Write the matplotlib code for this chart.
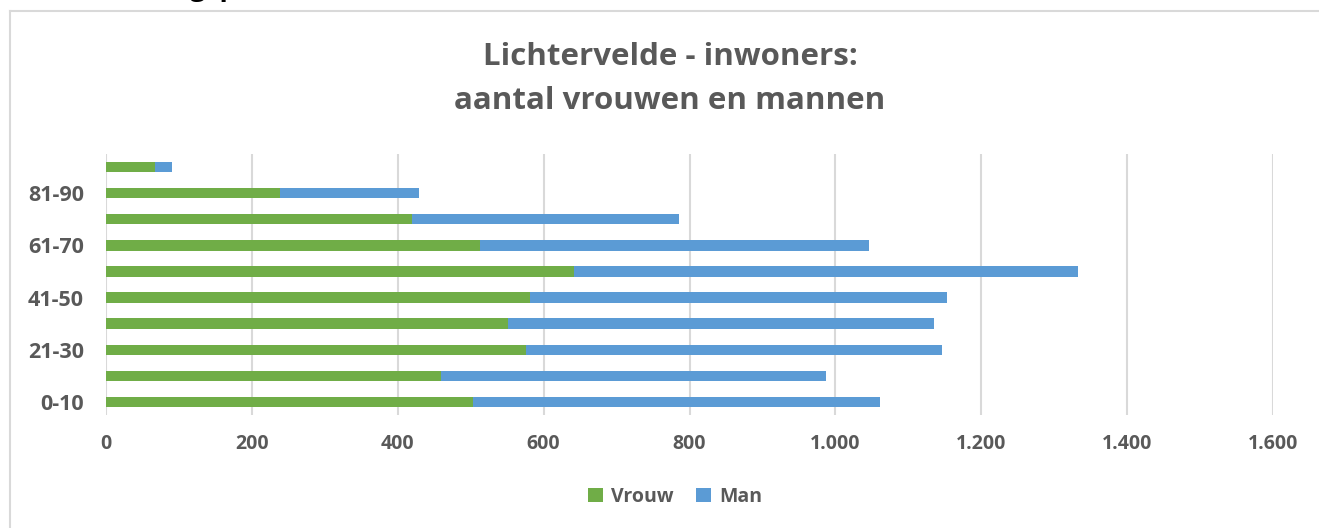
import matplotlib.pyplot as plt
from matplotlib.lines import Line2D
from matplotlib.ticker import FuncFormatter

# Leeftijdsgroepen (van jong naar oud) en aantallen
age_groups = ["0-10", "11-20", "21-30", "31-40", "41-50",
              "51-60", "61-70", "71-80", "81-90", "91+"]
vrouw = [503, 459, 576, 551, 581, 641, 513, 419, 239, 67]
man = [558, 528, 570, 584, 572, 692, 533, 366, 190, 24]

GREEN = "#70AD47"
BLUE = "#5B9BD5"
TEXT = "#595959"
GRID = "#D9D9D9"

plt.rcParams["font.family"] = ["Open Sans", "DejaVu Sans"]

W, H = 1319, 528
fig = plt.figure(figsize=(W / 100, H / 100), dpi=100)

# chart border (partially outside the canvas)
fig.add_artist(Line2D([9.5 / W, 1], [1 - 10.5 / H] * 2, color=GRID, lw=1.5))
fig.add_artist(Line2D([9.5 / W] * 2, [0, 1 - 10.5 / H], color=GRID, lw=1.5))

# heading above the chart, mostly outside the picture
fig.text(70 / W, 1 + 5 / H, "Bevolkingspiramide Lichtervelde",
         fontsize=20, fontweight="bold", color="black", va="baseline")

ax = fig.add_axes([106 / W, 1 - 415 / H, (1273 - 106) / W, (415 - 154) / H])

y = list(range(len(age_groups)))
ax.barh(y, vrouw, height=0.4, color=GREEN, label="Vrouw", zorder=3)
ax.barh(y, man, left=vrouw, height=0.4, color=BLUE, label="Man", zorder=3)

ax.set_xlim(0, 1600)
ax.set_ylim(-0.5, len(age_groups) - 0.5)
ax.set_xticks(range(0, 1601, 200))
ax.xaxis.set_major_formatter(FuncFormatter(lambda v, p: f"{v:,.0f}".replace(",", ".")))
ax.set_yticks(y[::2])
ax.set_yticklabels(age_groups[::2])

ax.grid(axis="x", color=GRID, lw=1.5, zorder=0)
for s in ax.spines.values():
    s.set_visible(False)
ax.tick_params(length=0, colors=TEXT)
ax.tick_params(axis="x", pad=14, labelsize=14)
ax.tick_params(axis="y", pad=16, labelsize=15.5)
for lab in ax.get_xticklabels() + ax.get_yticklabels():
    lab.set_fontweight("bold")

fig.text(670 / W, 1 - 57 / H, "Lichtervelde - inwoners:",
         ha="center", va="center", fontsize=22.5, fontweight="bold", color=TEXT)
fig.text(670 / W, 1 - 101 / H, "aantal vrouwen en mannen",
         ha="center", va="center", fontsize=22.5, fontweight="bold", color=TEXT)

fig.legend(loc="center", bbox_to_anchor=(675 / W, 1 - 497 / H), ncol=2, frameon=False,
           handlelength=0.75, handleheight=0.75, handletextpad=0.4, columnspacing=1.2,
           prop={"weight": "bold", "size": 14}, labelcolor=TEXT)

fig.savefig("out.png", dpi=100)
